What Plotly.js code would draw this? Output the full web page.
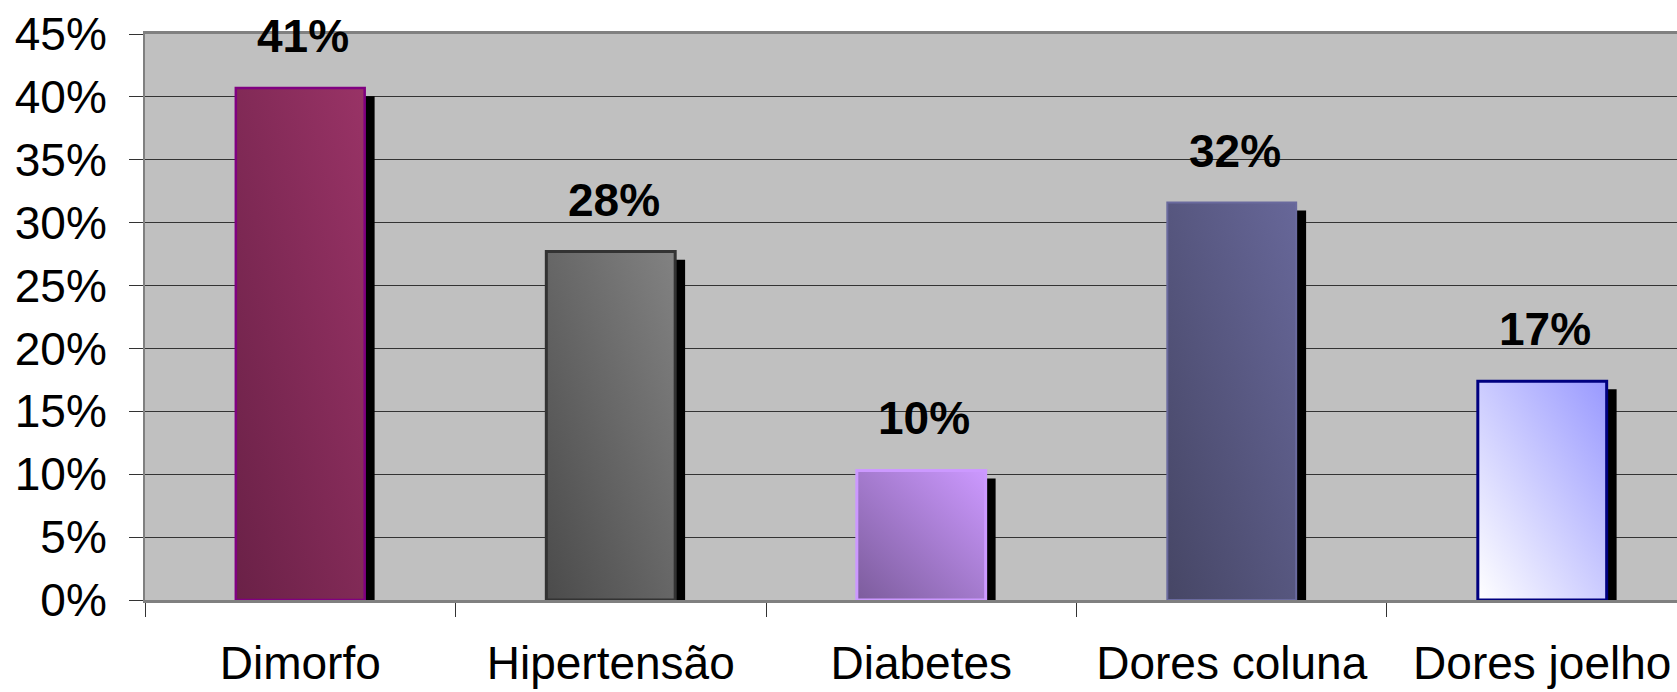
<!DOCTYPE html>
<html>
<head>
<meta charset="utf-8">
<script src="https://cdn.plot.ly/plotly-3.0.1.min.js"></script>
<style>
html,body{margin:0;padding:0;background:#fff;}
#chart{width:1677px;height:692px;}
</style>
</head>
<body>
<div id="chart"></div>
<script>
// ---- data ----
const categories = ["Dimorfo", "Hipertensão", "Diabetes", "Dores coluna", "Dores joelho"];
const values = [0.407, 0.277, 0.103, 0.316, 0.174];
const valueLabels = ["41%", "28%", "10%", "32%", "17%"];
const yTickValues = [0, 0.05, 0.10, 0.15, 0.20, 0.25, 0.30, 0.35, 0.40, 0.45];
const yTickLabels = ["0%", "5%", "10%", "15%", "20%", "25%", "30%", "35%", "40%", "45%"];

// ---- styles ----
const gradStart = ["#6A2147", "#4B4B4B", "#7C5C9C", "#464665", "#FFFFFF"];
const gradEnd   = ["#993366", "#828282", "#CC99FF", "#676799", "#9999FF"];
const borderColors = ["#800080", "#333333", "#CC99FF", "#6A6A9E", "#000080"];
const borderWidths = [2.5, 3, 3, 2, 3];

const FONT = "Liberation Sans, Arial, Helvetica, sans-serif";
const barWidth = 0.415;
const shadowDx = 0.032;   // category units (~10px)
const shadowDy = 0.0064;  // value units (~8px)

const shadow = {
  type: "bar",
  x: categories,
  y: values.map(v => v - shadowDy),
  width: barWidth,
  offset: -barWidth / 2 + shadowDx,
  marker: {color: "#000000", line: {width: 0}},
  hoverinfo: "skip",
  showlegend: false
};
const bars = {
  type: "bar",
  x: categories,
  y: values,
  width: barWidth,
  offset: -barWidth / 2,
  marker: {color: gradEnd, line: {color: borderColors, width: borderWidths}},
  hoverinfo: "skip",
  showlegend: false
};

const annotations = categories.map((c, i) => ({
  x: c, y: values[i], xref: "x", yref: "y",
  text: valueLabels[i], showarrow: false,
  yanchor: "bottom", xanchor: "center", yshift: 24, xshift: 3,
  font: {family: FONT, size: 46, color: "#000", weight: "bold"}
}));

const layout = {
  width: 1677, height: 692,
  margin: {l: 145, r: 0, t: 34, b: 92, autoexpand: false},
  paper_bgcolor: "#ffffff",
  plot_bgcolor: "#C0C0C0",
  barmode: "overlay",
  font: {family: FONT, color: "#000"},
  xaxis: {
    type: "category",
    range: [-0.5, 4.434],
    tickson: "boundaries",
    ticks: "outside", ticklen: 14, tickwidth: 1, tickcolor: "#333",
    showgrid: false,
    showline: true, mirror: true, linecolor: "#808080", linewidth: 3,
    tickfont: {family: FONT, size: 46, color: "#000"},
    ticklabeloverflow: "allow",
    ticklabelstandoff: 21,
    zeroline: false, fixedrange: true
  },
  yaxis: {
    range: [0, 0.45],
    tickmode: "array", tickvals: yTickValues, ticktext: yTickLabels,
    ticks: "outside", ticklen: 14, tickwidth: 1, tickcolor: "#333",
    showgrid: true, gridcolor: "#333333", gridwidth: 1,
    showline: true, linecolor: "#808080", linewidth: 2,
    zeroline: false,
    tickfont: {family: FONT, size: 46, color: "#000"},
    ticklabelstandoff: 13,
    fixedrange: true
  },
  annotations: annotations,
  showlegend: false,
  hovermode: false
};

Plotly.newPlot("chart", [shadow, bars], layout, {displayModeBar: false, staticPlot: true}).then(gd => {
  const svg = gd.querySelector("svg.main-svg");
  const NS = "http://www.w3.org/2000/svg";
  let defs = svg.querySelector("defs");
  if (!defs) { defs = document.createElementNS(NS, "defs"); svg.insertBefore(defs, svg.firstChild); }
  categories.forEach((c, i) => {
    const g = document.createElementNS(NS, "linearGradient");
    g.setAttribute("id", "barGrad" + i);
    g.setAttribute("x1", "0"); g.setAttribute("y1", "1");
    g.setAttribute("x2", "1"); g.setAttribute("y2", "0");
    const s1 = document.createElementNS(NS, "stop");
    s1.setAttribute("offset", "0"); s1.setAttribute("stop-color", gradStart[i]);
    const s2 = document.createElementNS(NS, "stop");
    s2.setAttribute("offset", "1"); s2.setAttribute("stop-color", gradEnd[i]);
    g.appendChild(s1); g.appendChild(s2);
    defs.appendChild(g);
  });
  const traces = gd.querySelectorAll(".barlayer .trace");
  const main = traces[1];
  if (main) {
    main.querySelectorAll(".point path").forEach((p, i) => {
      p.style.fill = "url(#barGrad" + i + ")";
    });
  }
});
</script>
</body>
</html>
